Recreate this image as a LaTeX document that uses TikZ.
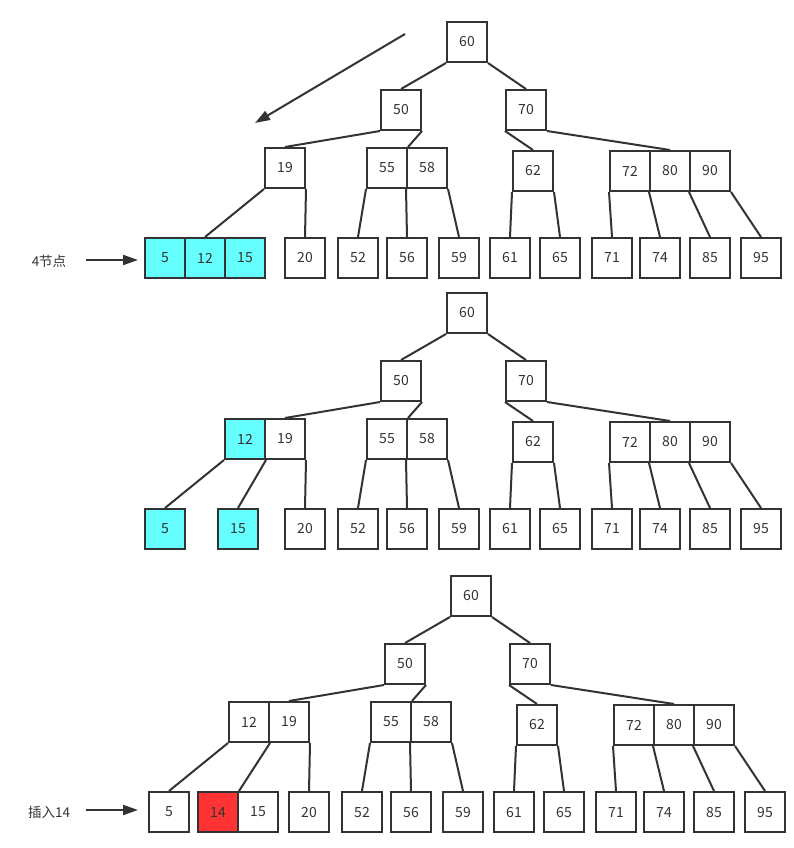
\documentclass[tikz,border=0pt]{standalone}
\usepackage{fontspec}
\setmainfont{Noto Sans CJK SC}
\usetikzlibrary{arrows.meta}
\definecolor{lc}{HTML}{333333}
\definecolor{cy}{HTML}{66FFFF}
\definecolor{rd}{HTML}{FF3333}
\tikzset{
  box/.style={draw=lc, line width=2pt, fill=white, minimum size=40pt, inner sep=0pt, font=\fontsize{14}{16}\selectfont, text=lc},
  cbox/.style={box, fill=cy},
  rbox/.style={box, fill=rd},
  ln/.style={draw=lc, line width=2pt},
  arr/.style={draw=lc, line width=2pt, -{Triangle[length=15pt,width=10pt]}},
  lbl/.style={font=\fontsize{13.5}{15}\selectfont, text=lc, inner sep=0pt}
}
\newcommand\treerest[3]{%
\begin{scope}[shift={(#2,#3)}]
\node[box] (#1-60) at (467,42) {60};
\node[box] (#1-50) at (401,110) {50};
\node[box] (#1-70) at (526,110) {70};
\node[box] (#1-55) at (387,168) {55};
\node[box] (#1-58) at (427,168) {58};
\node[box] (#1-62) at (533,171) {62};
\node[box] (#1-72) at (630,171) {72};
\node[box] (#1-80) at (670,171) {80};
\node[box] (#1-90) at (710,171) {90};
\node[box] (#1-20) at (305,258) {20};
\node[box] (#1-52) at (358,258) {52};
\node[box] (#1-56) at (407,258) {56};
\node[box] (#1-59) at (459,258) {59};
\node[box] (#1-61) at (510,258) {61};
\node[box] (#1-65) at (560,258) {65};
\node[box] (#1-71) at (612,258) {71};
\node[box] (#1-74) at (660,258) {74};
\node[box] (#1-85) at (710,258) {85};
\node[box] (#1-95) at (761,258) {95};
\draw[ln] (#1-60.south west) -- (#1-50.north);
\draw[ln] (#1-60.south east) -- (#1-70.north);
\draw[ln] (#1-50.south east) -- (#1-55.north east);
\draw[ln] (#1-70.south west) -- (#1-62.north);
\draw[ln] (#1-70.south east) -- (#1-80.north);
\draw[ln] (#1-55.south west) -- (#1-52.north);
\draw[ln] (#1-58.south west) -- (#1-56.north);
\draw[ln] (#1-58.south east) -- (#1-59.north);
\draw[ln] (#1-62.south west) -- (#1-61.north);
\draw[ln] (#1-62.south east) -- (#1-65.north);
\draw[ln] (#1-72.south west) -- (#1-71.north);
\draw[ln] (#1-80.south west) -- (#1-74.north);
\draw[ln] (#1-90.south west) -- (#1-85.north);
\draw[ln] (#1-90.south east) -- (#1-95.north);
\end{scope}}
\begin{document}
\begin{tikzpicture}[x=1pt,y=-1pt]
\useasboundingbox (0,0) rectangle (794,848);
% ---------- tree 1 ----------
\treerest{a}{0}{0}
\node[box] (a-19) at (285,168) {19};
\node[cbox] (a-5) at (165,258) {5};
\node[cbox] (a-12) at (205,258) {12};
\node[cbox] (a-15) at (245,258) {15};
\draw[ln] (a-50.south west) -- (a-19.north);
\draw[ln] (a-19.south west) -- (a-12.north);
\draw[ln] (a-19.south east) -- (a-20.north);
\coordinate (a-as) at (405,34);
\coordinate (a-ae) at (255,123);
\draw[arr] (a-as) -- (a-ae);
\node[lbl] (a-lab) at (49,261) {4节点};
\coordinate (a-le) at (138,260);
\draw[arr] (86,260) -- (a-le);
% ---------- tree 2 ----------
\treerest{b}{0}{271}
\node[cbox] (b-12) at (245,439) {12};
\node[box] (b-19) at (285,439) {19};
\node[cbox] (b-5) at (165,529) {5};
\node[cbox] (b-15) at (238,529) {15};
\draw[ln] (b-50.south west) -- (b-19.north);
\draw[ln] (b-12.south west) -- (b-5.north);
\draw[ln] (b-12.south east) -- (b-15.north);
\draw[ln] (b-19.south east) -- (b-20.north);
% ---------- tree 3 ----------
\treerest{c}{4}{554}
\node[box] (c-12) at (249,722) {12};
\node[box] (c-19) at (289,722) {19};
\node[box] (c-5) at (169,812) {5};
\node[rbox] (c-14) at (218,812) {14};
\node[box] (c-15) at (258,812) {15};
\draw[ln] (c-50.south west) -- (c-19.north);
\draw[ln] (c-12.south west) -- (c-5.north);
\draw[ln] (c-12.south east) -- (c-14.north east);
\draw[ln] (c-19.south east) -- (c-20.north);
\node[lbl] (c-lab) at (49,812) {插入14};
\coordinate (c-le) at (138,810);
\draw[arr] (86,810) -- (c-le);
\end{tikzpicture}
\end{document}
